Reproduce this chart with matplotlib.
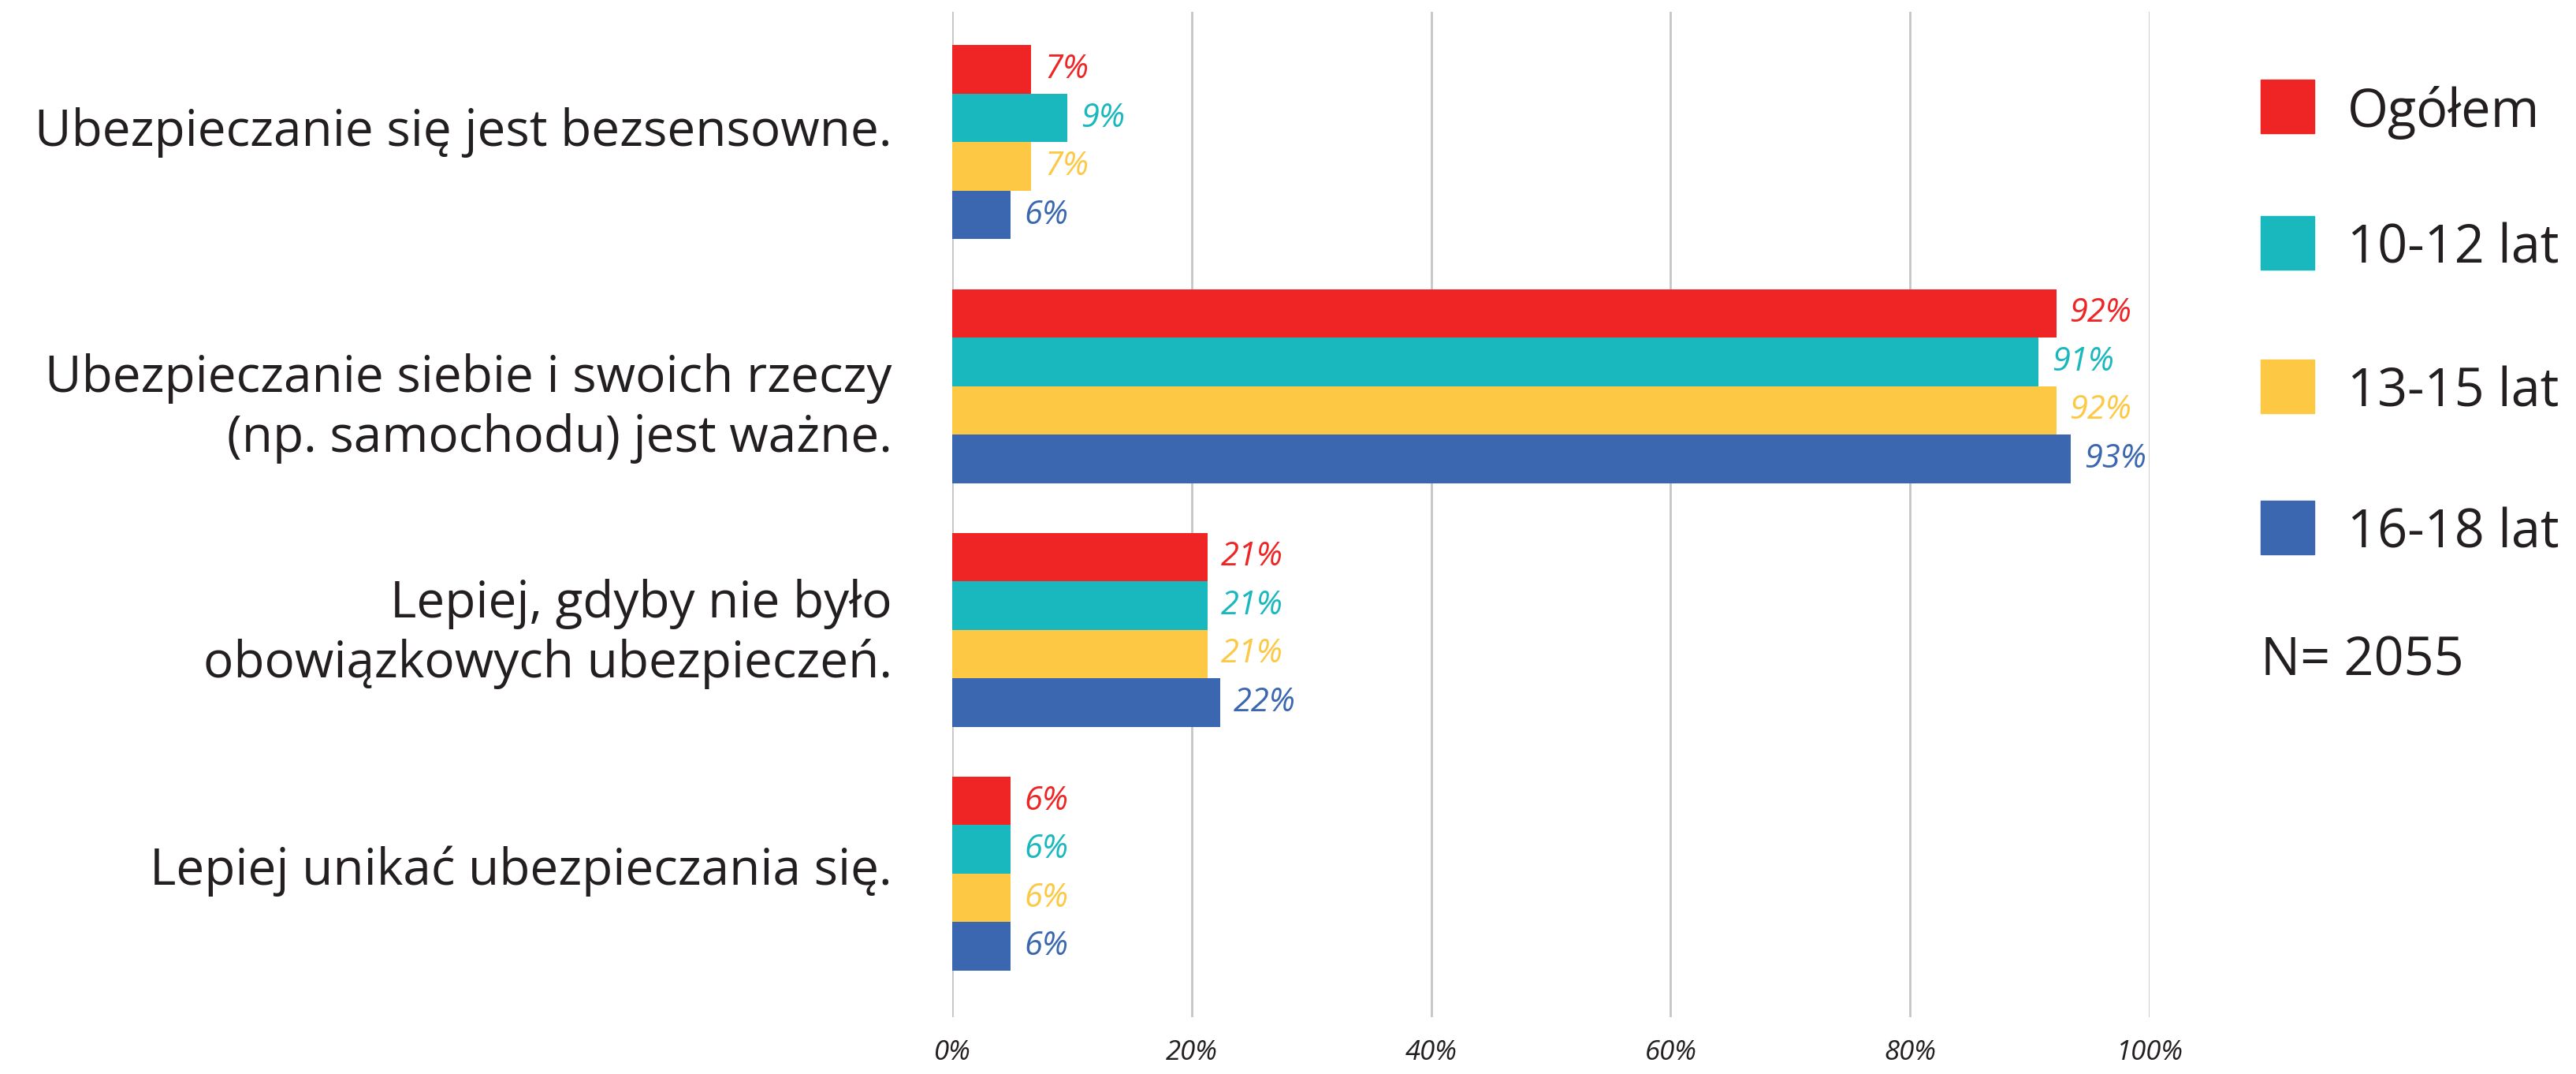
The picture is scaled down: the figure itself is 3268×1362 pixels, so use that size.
import numpy as np
import matplotlib
matplotlib.use("Agg")
import matplotlib.pyplot as plt
import matplotlib.transforms as mtransforms
from matplotlib.patches import Rectangle

plt.rcParams['font.family'] = ['Open Sans', 'DejaVu Sans']

# dane
kategorie = [
    "Ubezpieczanie się jest bezsensowne.",
    "Ubezpieczanie siebie i swoich rzeczy\n(np. samochodu) jest ważne.",
    "Lepiej, gdyby nie było\nobowiązkowych ubezpieczeń.",
    "Lepiej unikać ubezpieczania się.",
]
serie = ["Ogółem", "10-12 lat", "13-15 lat", "16-18 lat"]
kolory = ["#EE2524", "#18B8BE", "#FDC843", "#3A67B0"]

ogolem = [6.6, 92.2, 21.3, 4.9]
lat_10_12 = [9.6, 90.7, 21.3, 4.9]
lat_13_15 = [6.6, 92.2, 21.3, 4.9]
lat_16_18 = [4.9, 93.4, 22.4, 4.9]

etykiety_ogolem = ["7%", "92%", "21%", "6%"]
etykiety_10_12 = ["9%", "91%", "21%", "6%"]
etykiety_13_15 = ["7%", "92%", "21%", "6%"]
etykiety_16_18 = ["6%", "93%", "22%", "6%"]

ticki_x = [0, 20, 40, 60, 80, 100]
N_tekst = "N= 2055"

wartosci = [ogolem, lat_10_12, lat_13_15, lat_16_18]
etykiety = [etykiety_ogolem, etykiety_10_12, etykiety_13_15, etykiety_16_18]

TEKST = "#231F20"
SIATKA = "#C6C6C6"

fig = plt.figure(figsize=(32.68, 13.62), dpi=100)
ax = fig.add_axes([1208 / 3268, 1 - 1290 / 1362, (2727 - 1208) / 3268, (1290 - 15) / 1362])

y = np.arange(len(kategorie))
h = 0.199
for i, (vals, labs, kol) in enumerate(zip(wartosci, etykiety, kolory)):
    pos = y + (i - 1.5) * h
    ax.barh(pos, vals, height=h, color=kol, edgecolor="none", zorder=3, label=serie[i])
    for p, v, t in zip(pos, vals, labs):
        ax.annotate(t, xy=(v, p), xytext=(17, 0), textcoords="offset pixels",
                    ha="left", va="center", fontsize=30, style="italic", color=kol)

ax.set_xlim(0, 100)
ax.set_ylim(3.589, -0.535)
ax.set_xticks(ticki_x)
ax.set_xticklabels([f"{t}%" for t in ticki_x], fontsize=25, style="italic", color=TEKST)
ax.set_yticks(y)
ax.set_yticklabels(kategorie, fontsize=46, color=TEKST, linespacing=1.25)
ax.tick_params(axis="both", length=0)
ax.tick_params(axis="x", pad=20)
ax.tick_params(axis="y", pad=55)
ax.grid(axis="x", color=SIATKA, linewidth=2, zorder=0)
for s in ax.spines.values():
    s.set_visible(False)

# drobne przesunięcia etykiet kategorii (w pikselach, w dół dodatnie)
przesuniecia = [-20, 15, -8, -11]
for lbl, dy in zip(ax.get_yticklabels(), przesuniecia):
    lbl.set_transform(lbl.get_transform() + mtransforms.Affine2D().translate(0, -dy))

# legenda
legenda_y = [135, 308, 490, 669]
for ly, nazwa, kol in zip(legenda_y, serie, kolory):
    fig.patches.append(Rectangle((2868 / 3268, 1 - (ly + 34) / 1362), 68 / 3268, 68 / 1362,
                                 transform=fig.transFigure, color=kol))
    fig.text(2978 / 3268, 1 - ly / 1362, nazwa, fontsize=48, color=TEKST, va="center_baseline", ha="left")
fig.text(2868 / 3268, 1 - 831 / 1362, N_tekst, fontsize=48, color=TEKST, va="center_baseline", ha="left")

fig.savefig("out.png", dpi=100, facecolor="white")
